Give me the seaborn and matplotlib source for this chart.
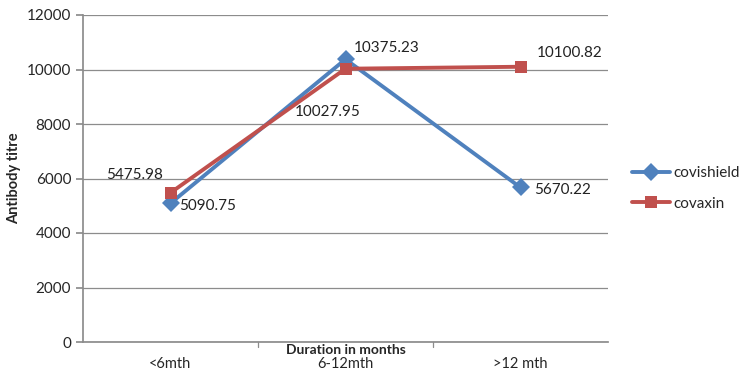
import pandas as pd
import matplotlib
matplotlib.use("Agg")
import matplotlib.pyplot as plt
import seaborn as sns

# data
durations = ["<6mth", "6-12mth", ">12 mth"]
covishield = [5090.75, 10375.23, 5670.22]
covaxin = [5475.98, 10027.95, 10100.82]

df = pd.DataFrame({
    "duration": durations * 2,
    "titre": covishield + covaxin,
    "vaccine": ["covishield"] * 3 + ["covaxin"] * 3,
})

sns.set_theme(style="white")
plt.rcParams["font.family"] = ["Lato", "DejaVu Sans"]

fig = plt.figure(figsize=(7.5, 3.73), dpi=100)
ax = fig.add_axes([83 / 750, 31 / 373, 525 / 750, 327 / 373])

palette = {"covishield": "#4F81BD", "covaxin": "#C0504D"}
sns.lineplot(data=df, x="duration", y="titre", hue="vaccine", style="vaccine",
             markers={"covishield": "D", "covaxin": "s"}, dashes=False,
             palette=palette, linewidth=2.8, markersize=9, markeredgewidth=0,
             ax=ax)

ax.set_xlim(-0.5, 2.5)
ax.set_ylim(0, 12000)
ax.set_yticks(range(0, 12001, 2000))
ax.yaxis.grid(True, color="#8c8c8c", linewidth=0.9)
ax.set_axisbelow(True)
for s in ["top", "right"]:
    ax.spines[s].set_visible(False)
ax.spines["left"].set_color("#8c8c8c")
ax.spines["bottom"].set_color("#8c8c8c")
ax.tick_params(axis="y", length=5, color="#8c8c8c", labelsize=11, left=True)
ax.tick_params(axis="x", length=0, labelsize=10.5, pad=11)
for xb in [0.5, 1.5]:
    ax.plot([xb, xb], [0, -180], color="#8c8c8c", linewidth=0.9, clip_on=False)
ax.set_xlabel("Duration in months", fontsize=10, fontweight="bold")
ax.xaxis.set_label_coords(0.5, -0.005)
ax.set_ylabel("Antibody titre", fontsize=10.5, fontweight="bold")

# value labels
lab_off = {
    ("covishield", 0): (6, -2, "left", "center"),
    ("covishield", 1): (6, 3, "left", "bottom"),
    ("covishield", 2): (10, -2, "left", "center"),
    ("covaxin", 0): (-26, 8, "center", "bottom"),
    ("covaxin", 1): (-13, -26, "center", "top"),
    ("covaxin", 2): (12, 5, "left", "bottom"),
}
for name, vals in [("covishield", covishield), ("covaxin", covaxin)]:
    for i, v in enumerate(vals):
        dx, dy, ha, va = lab_off[(name, i)]
        ax.annotate(f"{v:.2f}", (i, v), xytext=(dx, dy), textcoords="offset points",
                    ha=ha, va=va, fontsize=11, color="#222222")

ax.legend(loc="center left", bbox_to_anchor=(1.02, 0.47), frameon=False,
          fontsize=11, handlelength=2.5, labelspacing=1.1, handletextpad=0.2)

fig.savefig("out.png", dpi=100)
